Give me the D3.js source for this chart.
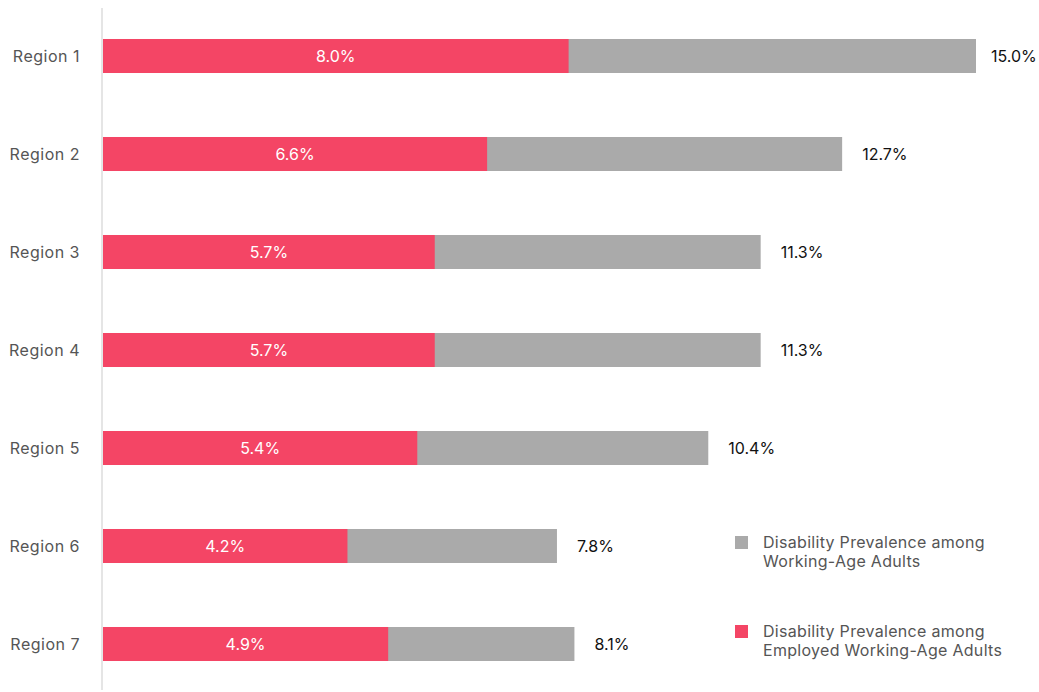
<!DOCTYPE html>
<html>
<head>
<meta charset="utf-8">
<script src="https://cdn.jsdelivr.net/npm/d3@7"></script>
<style>
  body { margin: 0; background: #fff; }
  text { font-family: Inter, "Noto Sans", sans-serif; }
</style>
</head>
<body>
<div id="chart"></div>
<script>
// data
var regions = ["Region 1", "Region 2", "Region 3", "Region 4", "Region 5", "Region 6", "Region 7"];
var allAdults = [15.0, 12.7, 11.3, 11.3, 10.4, 7.8, 8.1];
var employedAdults = [8.0, 6.6, 5.7, 5.7, 5.4, 4.2, 4.9];
var legendLabels = [
  ["Disability Prevalence among", "Working-Age Adults"],
  ["Disability Prevalence among", "Employed Working-Age Adults"]
];

var w = 1039, h = 692;
var left = 103;
var grey = "#aaaaaa", red = "#f44565";

var svg = d3.select("#chart").append("svg")
    .attr("width", w).attr("height", h);

var x = d3.scaleLinear().domain([0, 15]).range([left, 976]);
var y = d3.scaleBand().domain(regions).range([7, 693])
    .paddingInner(0.653).paddingOuter(0.3265);

// axis line
svg.append("line")
    .attr("x1", left - 1).attr("x2", left - 1)
    .attr("y1", 8).attr("y2", 690)
    .attr("stroke", "#dddddd").attr("stroke-width", 1.5);

// category labels
svg.selectAll(".cat").data(regions).enter().append("text")
    .attr("class", "cat")
    .attr("x", 80)
    .attr("y", function(d) { return y(d) + y.bandwidth() / 2; })
    .attr("dy", "0.35em")
    .attr("text-anchor", "end")
    .attr("font-size", "16px")
    .attr("letter-spacing", "0.5px")
    .attr("fill", "#555")
    .text(function(d) { return d; });

// grey bars (total)
svg.selectAll(".tot").data(allAdults).enter().append("rect")
    .attr("class", "tot")
    .attr("x", x(0))
    .attr("y", function(d, i) { return y(regions[i]); })
    .attr("width", function(d) { return x(d) - x(0); })
    .attr("height", y.bandwidth())
    .attr("fill", grey);

// red bars (employed)
svg.selectAll(".emp").data(employedAdults).enter().append("rect")
    .attr("class", "emp")
    .attr("x", x(0))
    .attr("y", function(d, i) { return y(regions[i]); })
    .attr("width", function(d) { return x(d) - x(0); })
    .attr("height", y.bandwidth())
    .attr("fill", red);

// red labels
svg.selectAll(".empLab").data(employedAdults).enter().append("text")
    .attr("class", "empLab")
    .attr("x", function(d) { return (x(0) + x(d)) / 2; })
    .attr("y", function(d, i) { return y(regions[i]) + y.bandwidth() / 2; })
    .attr("dy", "0.35em")
    .attr("text-anchor", "middle")
    .attr("font-size", "16px")
    .attr("fill", "white")
    .text(function(d) { return d.toFixed(1) + "%"; });

// total labels
svg.selectAll(".totLab").data(allAdults).enter().append("text")
    .attr("class", "totLab")
    .attr("x", function(d) { return Math.min(x(d) + 20, 991); })
    .attr("y", function(d, i) { return y(regions[i]) + y.bandwidth() / 2; })
    .attr("dy", "0.35em")
    .attr("font-size", "16px")
    .attr("fill", "#111")
    .text(function(d) { return d.toFixed(1) + "%"; });

// legend
var legend = svg.selectAll(".leg").data(legendLabels).enter().append("g")
    .attr("class", "leg")
    .attr("transform", function(d, i) { return "translate(735," + (536 + i * 89) + ")"; });
legend.append("rect")
    .attr("width", 13).attr("height", 13)
    .attr("fill", function(d, i) { return i === 0 ? grey : red; });
legend.append("text")
    .attr("x", 28).attr("y", 6)
    .attr("font-size", "16px")
    .attr("letter-spacing", "0.3px")
    .attr("fill", "#555")
    .selectAll("tspan").data(function(d) { return d; }).enter().append("tspan")
    .attr("x", 28)
    .attr("dy", function(d, i) { return i === 0 ? "0.35em" : "1.2em"; })
    .text(function(d) { return d; });
</script>
</body>
</html>
